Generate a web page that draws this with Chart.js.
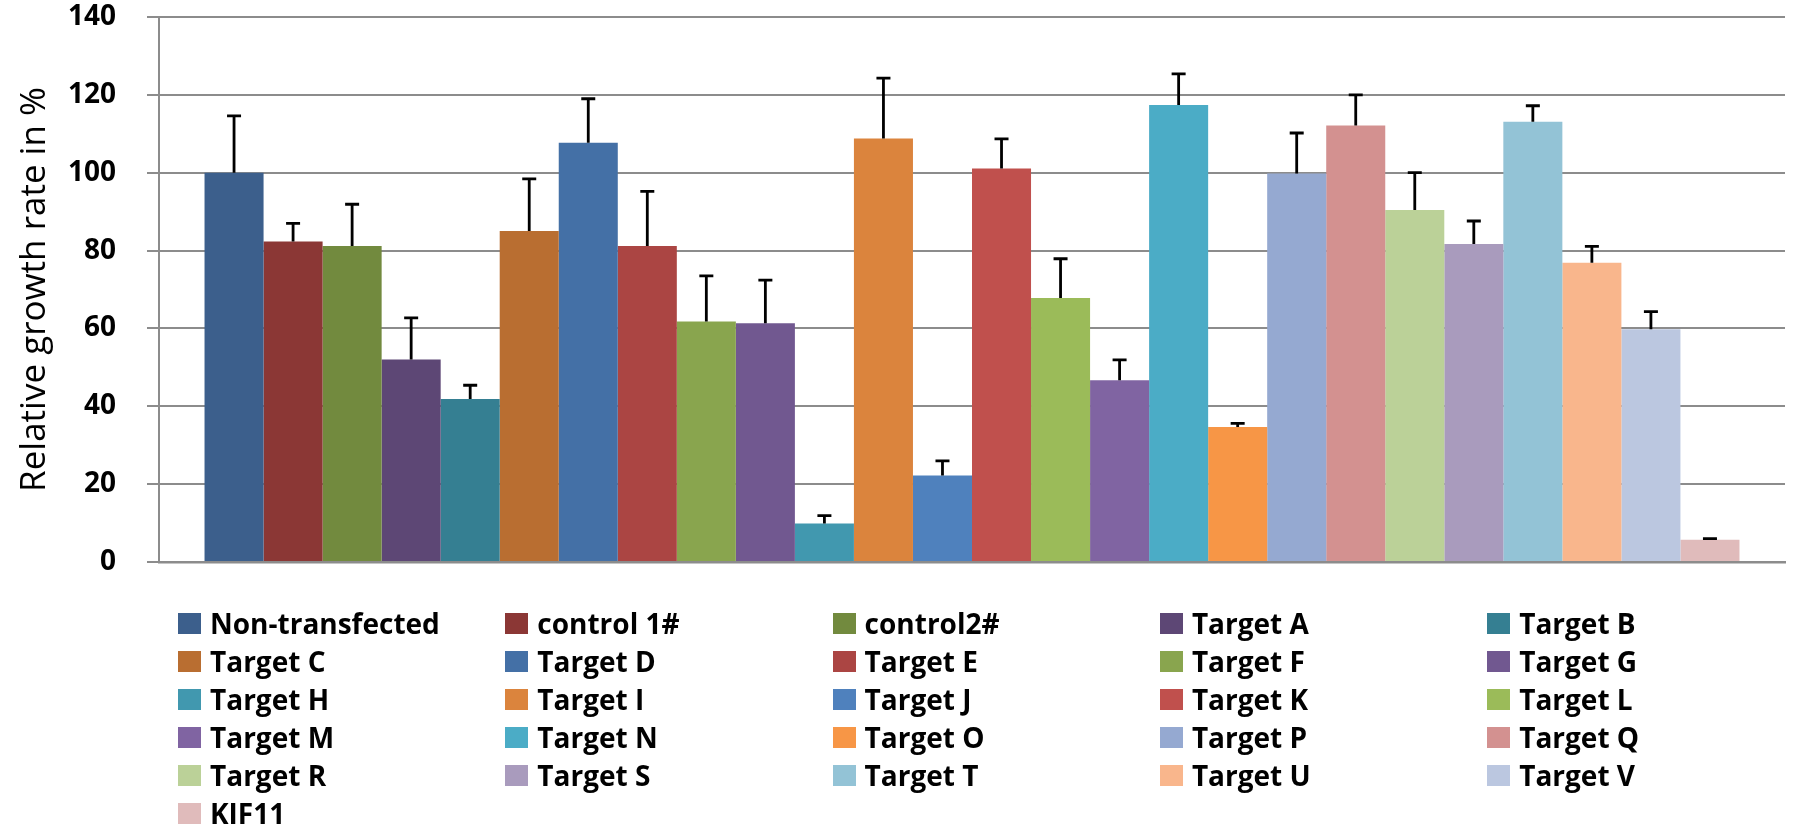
<!DOCTYPE html>
<html>
<head>
<meta charset="utf-8">
<script src="https://cdn.jsdelivr.net/npm/chart.js@4"></script>
<style>
  html, body { margin: 0; padding: 0; background: #fff; }
  #wrap { position: relative; width: 1800px; height: 840px; }
  #legend {
    position: absolute; left: 178px; top: 604px;
    display: grid; grid-template-columns: repeat(5, 327.3px); grid-auto-rows: 38px;
    font-family: "Open Sans", sans-serif; font-weight: bold; font-size: 28px; color: #000;
  }
  #legend div { display: flex; align-items: center; white-space: nowrap; }
  #legend span.box { display: inline-block; width: 23px; height: 21px; margin-right: 9px; }
</style>
</head>
<body>
<div id="wrap">
  <canvas id="chartGrowth" width="1800" height="840"></canvas>
  <div id="legend"></div>
</div>
<script>
// one category, one series per sample (like the Excel chart)
var samples = ["Non-transfected", "control 1#", "control2#", "Target A", "Target B",
  "Target C", "Target D", "Target E", "Target F", "Target G",
  "Target H", "Target I", "Target J", "Target K", "Target L",
  "Target M", "Target N", "Target O", "Target P", "Target Q",
  "Target R", "Target S", "Target T", "Target U", "Target V",
  "KIF11"];
var growth = [100, 82.3, 81.2, 52, 41.9,
  85, 107.7, 81.2, 61.8, 61.3,
  9.9, 108.8, 22.2, 101.1, 67.8,
  46.7, 117.4, 34.7, 99.8, 112.1,
  90.4, 81.7, 113.1, 76.9, 59.8,
  5.7];
var errors = [14.6, 4.7, 10.7, 10.7, 3.5,
  13.4, 11.3, 14, 11.7, 11.1,
  2, 15.5, 3.8, 7.6, 10.1,
  5.2, 8, 0.9, 10.4, 7.9,
  9.6, 5.9, 4.1, 4.2, 4.5,
  0.3];
var yTicks = [0, 20, 40, 60, 80, 100, 120, 140];
var colors = ["#3C5F8C", "#8B3735", "#728A3E", "#5D4775", "#357F92",
  "#B96E31", "#4470A6", "#AB4543", "#89A54E", "#715890",
  "#4198AF", "#DB843D", "#4F81BD", "#C0504D", "#9BBB59",
  "#8064A2", "#4BACC6", "#F79646", "#95A9D1", "#D39190",
  "#BBD198", "#A99BBD", "#93C3D6", "#F9B68C", "#BBC7E0",
  "#E0BBBB"];

var datasets = samples.map(function(name, i) {
  return {
    label: name,
    data: [growth[i]],
    backgroundColor: colors[i],
    borderWidth: 0
  };
});

// positive error bars drawn on top of each bar
var errorBars = {
  id: "errorBars",
  afterDatasetsDraw: function(chart) {
    var ctx = chart.ctx;
    var y = chart.scales.y;
    ctx.save();
    ctx.strokeStyle = "#000";
    ctx.lineWidth = 2.8;
    chart.data.datasets.forEach(function(ds, i) {
      var bar = chart.getDatasetMeta(i).data[0];
      var top = y.getPixelForValue(growth[i] + errors[i]);
      ctx.beginPath();
      ctx.moveTo(bar.x, bar.y);
      ctx.lineTo(bar.x, top);
      ctx.moveTo(bar.x - 7, top);
      ctx.lineTo(bar.x + 7, top);
      ctx.stroke();
    });
    ctx.restore();
  }
};

var ctg = document.getElementById("chartGrowth");
var chart = new Chart(ctg, {
  type: "bar",
  data: { labels: [""], datasets: datasets },
  options: {
    responsive: false,
    animation: false,
    layout: { padding: { top: 2, right: 15, bottom: 278, left: 0 } },
    datasets: { bar: { barPercentage: 1, categoryPercentage: 0.944 } },
    plugins: {
      legend: { display: false },
      tooltip: { enabled: false }
    },
    scales: {
      x: {
        ticks: { display: false },
        grid: { display: false, drawTicks: false },
        border: { display: true, color: "#8c8c8c", width: 2.5 }
      },
      y: {
        min: 0, max: 140,
        afterBuildTicks: function(scale) {
          scale.ticks = yTicks.map(function(v) { return { value: v }; });
        },
        // keep the wide label gap from pushing the plot around
        afterFit: function(scale) {
          scale.width = 159;
          scale.paddingTop = 17;
          scale.paddingBottom = 17;
        },
        ticks: {
          padding: 31,
          color: "#000",
          font: { family: "Open Sans", weight: "bold", size: 28 }
        },
        grid: { color: "#8c8c8c", lineWidth: 2, tickLength: 12 },
        border: { color: "#8c8c8c", width: 2 },
        title: {
          display: true,
          text: "Relative growth rate in %",
          color: "#000",
          padding: { top: 14, bottom: 14 },
          font: { family: "Open Sans", size: 35, weight: "normal" }
        }
      }
    }
  },
  plugins: [errorBars]
});

// grid legend like the Excel one, built from the chart's datasets
var legendBox = document.getElementById("legend");
chart.data.datasets.forEach(function(ds) {
  var item = document.createElement("div");
  var box = document.createElement("span");
  box.className = "box";
  box.style.background = ds.backgroundColor;
  item.appendChild(box);
  item.appendChild(document.createTextNode(ds.label));
  legendBox.appendChild(item);
});
</script>
</body>
</html>
